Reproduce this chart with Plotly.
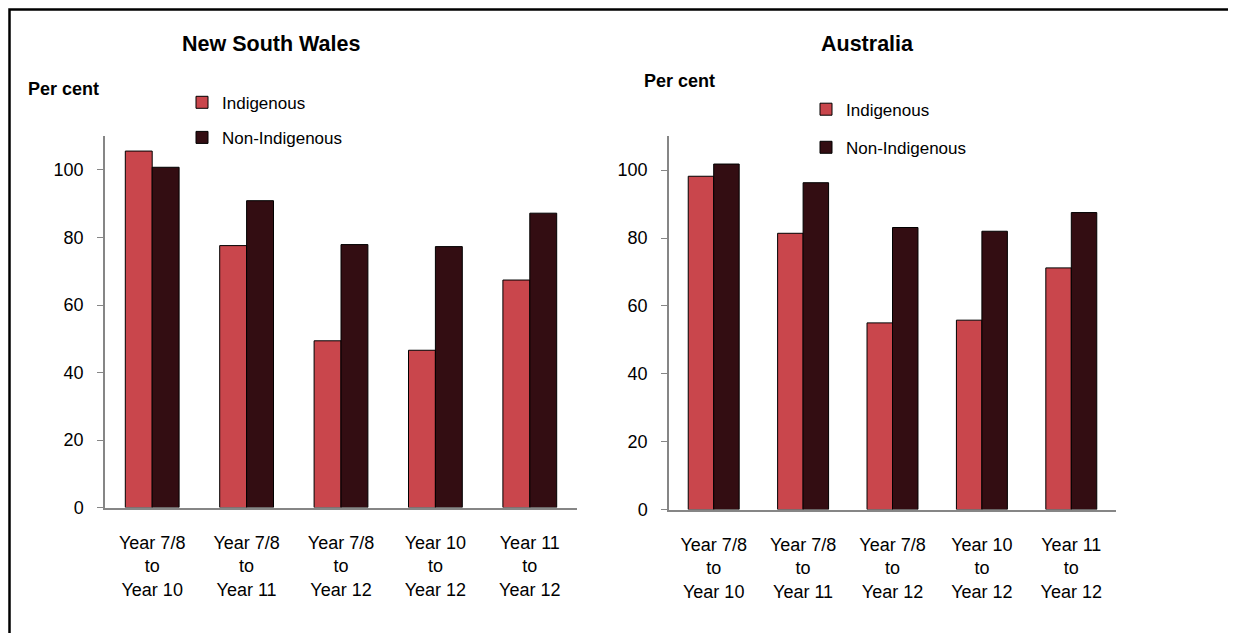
import plotly.graph_objects as go

# data
categories = ["Year 7/8<br>to<br>Year 10", "Year 7/8<br>to<br>Year 11", "Year 7/8<br>to<br>Year 12",
              "Year 10<br>to<br>Year 12", "Year 11<br>to<br>Year 12"]
nsw_indigenous = [105.6, 77.6, 49.4, 46.6, 67.4]
nsw_non_indigenous = [100.8, 90.9, 77.9, 77.3, 87.2]
aus_indigenous = [98.2, 81.4, 55.0, 55.8, 71.2]
aus_non_indigenous = [101.8, 96.3, 83.1, 82.0, 87.5]
y_ticks = [0, 20, 40, 60, 80, 100]

# page body has an 8px margin, so the figure is a bit smaller and shifted
OFF = 8
W, H = 1236 - OFF, 633 - OFF
RED = "#C9464C"
DARK = "#330D12"
FONT = "Liberation Sans, Arial, sans-serif"


def px(x):
    return (x - OFF) / W


def py(y):
    return 1 - (y - OFF) / H


fig = go.Figure()

panels = [
    ("x", "y", "legend", nsw_indigenous, nsw_non_indigenous),
    ("x2", "y2", "legend2", aus_indigenous, aus_non_indigenous),
]
for xa, ya, lg, ind, non in panels:
    fig.add_trace(go.Bar(x=categories, y=ind, name="Indigenous", xaxis=xa, yaxis=ya,
                         marker=dict(color=RED, line=dict(color="black", width=1)),
                         legend=lg, legendgroup=lg + "a"))
    fig.add_trace(go.Bar(x=categories, y=non, name="Non-Indigenous", xaxis=xa, yaxis=ya,
                         marker=dict(color=DARK, line=dict(color="black", width=1)),
                         legend=lg, legendgroup=lg + "b"))

axis_common = dict(showline=True, linecolor="#868686", linewidth=1.5, showgrid=False,
                   zeroline=False, tickfont=dict(size=18, color="black", family=FONT))
# transparent long ticks push the category labels down like in the reference
x_common = dict(axis_common, ticks="outside", ticklen=18, tickcolor="rgba(0,0,0,0)",
                fixedrange=True)
y_common = dict(axis_common, ticks="outside", ticklen=6, tickcolor="#868686",
                ticklabelstandoff=10, range=[0, 110], tickvals=y_ticks)

fig.update_layout(
    width=W, height=H,
    margin=dict(l=0, r=0, t=0, b=0),
    paper_bgcolor="white", plot_bgcolor="white",
    font=dict(family=FONT, color="black", size=17),
    barmode="group", bargap=0.43, bargroupgap=0,
    xaxis=dict(x_common, domain=[px(105), px(577)], anchor="y"),
    yaxis=dict(y_common, domain=[py(515.7), py(138.3)], anchor="x"),
    xaxis2=dict(x_common, domain=[px(669), px(1116)], anchor="y2"),
    yaxis2=dict(y_common, domain=[py(517.7), py(138.3)], anchor="x2"),
    legend=dict(x=px(182), y=py(86), xanchor="left", yanchor="top",
                font=dict(size=17), tracegroupgap=10, itemwidth=30,
                bgcolor="rgba(0,0,0,0)"),
    legend2=dict(x=px(806), y=py(93), xanchor="left", yanchor="top",
                 font=dict(size=17), tracegroupgap=13, itemwidth=30,
                 bgcolor="rgba(0,0,0,0)"),
)

annotations = [
    dict(text="<b>New South Wales</b>", x=px(271), y=py(45), font=dict(size=21.5)),
    dict(text="<b>Australia</b>", x=px(867), y=py(45), font=dict(size=21.5)),
    dict(text="<b>Per cent</b>", x=px(26), y=py(90), xanchor="left", font=dict(size=18)),
    dict(text="<b>Per cent</b>", x=px(642), y=py(82), xanchor="left", font=dict(size=18)),
]
for a in annotations:
    a.setdefault("xanchor", "center")
    fig.add_annotation(xref="paper", yref="paper", yanchor="middle", showarrow=False, **a)

# outer frame (only left and top edges visible in the reference)
fig.add_shape(type="rect", xref="paper", yref="paper", x0=px(9.5), y0=-0.05, x1=1.05, y1=py(9.5),
              line=dict(color="black", width=2.5), fillcolor="rgba(0,0,0,0)", layer="above")

fig.write_html("out.html")
